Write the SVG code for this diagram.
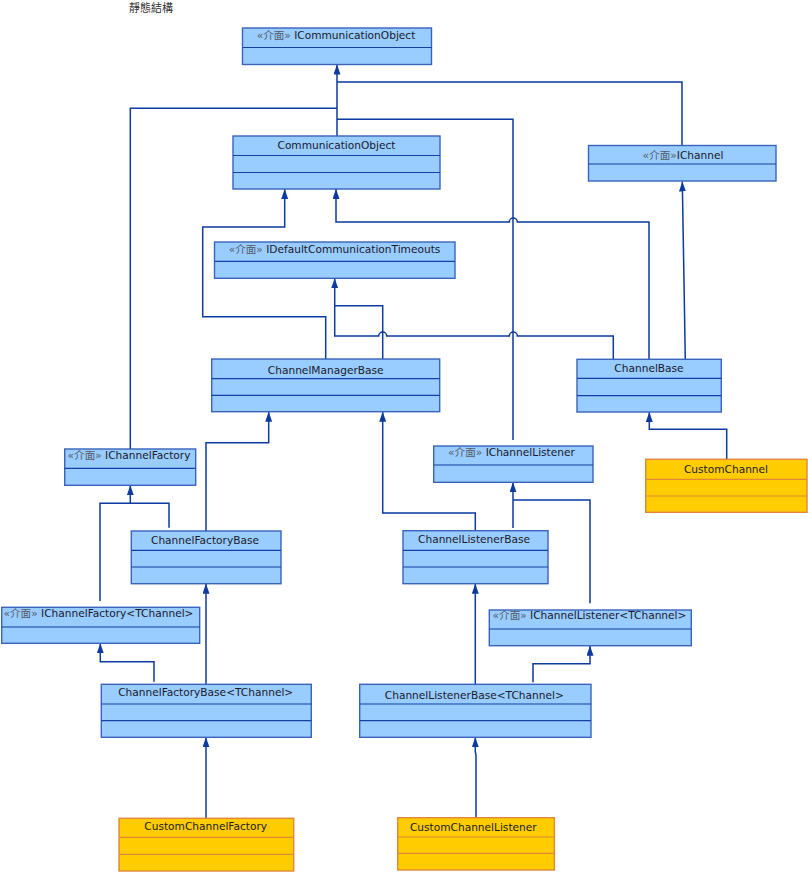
<svg xmlns="http://www.w3.org/2000/svg" width="808" height="872" viewBox="0 0 808 872">
<style>
.bx{fill:#99CCFF;stroke:#3A64BC;stroke-width:1.4}
.dv{stroke:#1240A4;stroke-width:1.2}
.ox{fill:#FFCC00;stroke:#E0873A;stroke-width:1.4}
.od{stroke:#E0873A;stroke-width:1.2}
.t{font-family:"DejaVu Sans","Noto Sans CJK TC",sans-serif;font-size:10.6px;fill:#1a1a2a;text-anchor:middle}
.st{fill:#555a66}
.cn{fill:none;stroke:#0D3A9E;stroke-width:1.5}
.ar{marker-end:url(#arr)}
</style>
<defs>
<marker id="arr" markerUnits="userSpaceOnUse" markerWidth="10" markerHeight="7" refX="10" refY="3.5" orient="auto">
<path d="M0,0 L10,3.5 L0,7 z" fill="#0D3A9E"/>
</marker>
</defs>
<rect width="808" height="872" fill="#ffffff"/>
<text x="129" y="12" font-family="'Noto Sans CJK TC',sans-serif" font-size="11" fill="#333">靜態結構</text>

<g id="connectors">
<path class="cn ar" d="M337,136 V64.5"/>
<path class="cn" d="M682,146 V82 H337"/>
<path class="cn" d="M513,440 V119.3 H337"/>
<path class="cn" d="M130.3,449 V108.3 H337"/>
<path class="cn ar" d="M325.7,359 V316.7 H202.7 V227 H284.7 V189"/>
<path class="cn ar" d="M649,359 V222 H517.3 A4 4 0 0 0 509.3 222 H336 V189"/>
<path class="cn ar" d="M685.3,359 L682.3,181.5"/>
<path class="cn ar" d="M613.3,359 V336 H517.3 A4 4 0 0 0 509.3 336 H386.7 A4 4 0 0 0 378.7 336 H334.7 V278.3"/>
<path class="cn" d="M382.7,359 V305.7 H334.7"/>
<path class="cn ar" d="M726.7,459.3 V429.3 H649.3 V412"/>
<path class="cn ar" d="M206,531 V442.7 H268.7 V411.7"/>
<path class="cn ar" d="M475.3,530.7 V513 H382.7 V411.7"/>
<path class="cn ar" d="M169,527.7 V503.3 H130.3 V485.3"/>
<path class="cn" d="M100,601 V503.3 H130.3"/>
<path class="cn ar" d="M513,528 V482.3"/>
<path class="cn" d="M590,603.3 V500 H513"/>
<path class="cn ar" d="M206,684.3 V583.7"/>
<path class="cn ar" d="M475.3,684.3 V583.7"/>
<path class="cn ar" d="M154,681.7 V661.7 H100.3 V643.3"/>
<path class="cn ar" d="M533,682.3 V663.7 H590 V645.7"/>
<path class="cn ar" d="M206,818.3 V737.3"/>
<path class="cn ar" d="M476,818 V755 L475.3,752 V737.3"/>
</g>

<g id="ICommunicationObject">
<rect class="bx" x="242.5" y="28" width="189" height="36.5"/>
<line class="dv" x1="242.5" y1="47.5" x2="431.5" y2="47.5"/>
<text class="t" x="336" y="38.5"><tspan class="st">«介面»</tspan> ICommunicationObject</text>
</g>

<g id="CommunicationObject">
<rect class="bx" x="233" y="136" width="207" height="53"/>
<line class="dv" x1="233" y1="155.5" x2="440" y2="155.5"/>
<line class="dv" x1="233" y1="172.5" x2="440" y2="172.5"/>
<text class="t" x="336.5" y="149">CommunicationObject</text>
</g>

<g id="IChannel">
<rect class="bx" x="588.5" y="145.5" width="187.5" height="35.5"/>
<line class="dv" x1="588.5" y1="164" x2="776" y2="164"/>
<text class="t" x="683" y="159"><tspan class="st">«介面»</tspan>IChannel</text>
</g>

<g id="IDefaultCommunicationTimeouts">
<rect class="bx" x="214.5" y="242" width="240.5" height="36.3"/>
<line class="dv" x1="214.5" y1="261.3" x2="455" y2="261.3"/>
<text class="t" x="334.5" y="252.5"><tspan class="st">«介面»</tspan> IDefaultCommunicationTimeouts</text>
</g>

<g id="ChannelManagerBase">
<rect class="bx" x="211.7" y="359" width="228" height="52.7"/>
<line class="dv" x1="211.7" y1="378.7" x2="439.7" y2="378.7"/>
<line class="dv" x1="211.7" y1="395.3" x2="439.7" y2="395.3"/>
<text class="t" x="325.7" y="374.3">ChannelManagerBase</text>
</g>

<g id="ChannelBase">
<rect class="bx" x="577" y="359.3" width="144.3" height="52.7"/>
<line class="dv" x1="577" y1="378.3" x2="721.3" y2="378.3"/>
<line class="dv" x1="577" y1="395.7" x2="721.3" y2="395.7"/>
<text class="t" x="649" y="372.3">ChannelBase</text>
</g>

<g id="IChannelFactory">
<rect class="bx" x="64.7" y="449" width="131" height="36.3"/>
<line class="dv" x1="64.7" y1="468.3" x2="195.7" y2="468.3"/>
<text class="t" x="129" y="458.7"><tspan class="st">«介面»</tspan> IChannelFactory</text>
</g>

<g id="IChannelListener">
<rect class="bx" x="433.7" y="446" width="159.3" height="36.3"/>
<line class="dv" x1="433.7" y1="465" x2="593" y2="465"/>
<text class="t" x="511.5" y="456"><tspan class="st">«介面»</tspan> IChannelListener</text>
</g>

<g id="CustomChannel">
<rect class="ox" x="645.7" y="459.3" width="161.3" height="53"/>
<line class="od" x1="645.7" y1="479.3" x2="807" y2="479.3"/>
<line class="od" x1="645.7" y1="496" x2="807" y2="496"/>
<text class="t" x="726" y="473.3">CustomChannel</text>
</g>

<g id="ChannelFactoryBase">
<rect class="bx" x="131.3" y="531" width="149.7" height="52.7"/>
<line class="dv" x1="131.3" y1="550.3" x2="281" y2="550.3"/>
<line class="dv" x1="131.3" y1="567" x2="281" y2="567"/>
<text class="t" x="205" y="543.7">ChannelFactoryBase</text>
</g>

<g id="ChannelListenerBase">
<rect class="bx" x="403" y="530.7" width="145" height="53"/>
<line class="dv" x1="403" y1="550.3" x2="548" y2="550.3"/>
<line class="dv" x1="403" y1="567" x2="548" y2="567"/>
<text class="t" x="474" y="543.3">ChannelListenerBase</text>
</g>

<g id="IChannelFactoryTChannel">
<rect class="bx" x="1.7" y="607.3" width="198" height="36"/>
<line class="dv" x1="1.7" y1="627" x2="199.7" y2="627"/>
<text class="t" x="98.5" y="616.7"><tspan class="st">«介面»</tspan> IChannelFactory&lt;TChannel&gt;</text>
</g>

<g id="IChannelListenerTChannel">
<rect class="bx" x="489.3" y="610" width="202" height="35.7"/>
<line class="dv" x1="489.3" y1="629" x2="691.3" y2="629"/>
<text class="t" x="589.5" y="619"><tspan class="st">«介面»</tspan> IChannelListener&lt;TChannel&gt;</text>
</g>

<g id="ChannelFactoryBaseTChannel">
<rect class="bx" x="101.3" y="684.3" width="210" height="53"/>
<line class="dv" x1="101.3" y1="704" x2="311.3" y2="704"/>
<line class="dv" x1="101.3" y1="720.7" x2="311.3" y2="720.7"/>
<text class="t" x="205.7" y="696">ChannelFactoryBase&lt;TChannel&gt;</text>
</g>

<g id="ChannelListenerBaseTChannel">
<rect class="bx" x="359.7" y="684.3" width="231.3" height="53"/>
<line class="dv" x1="359.7" y1="704" x2="591" y2="704"/>
<line class="dv" x1="359.7" y1="720.7" x2="591" y2="720.7"/>
<text class="t" x="474.3" y="698.7">ChannelListenerBase&lt;TChannel&gt;</text>
</g>

<g id="CustomChannelFactory">
<rect class="ox" x="119" y="818.3" width="174.7" height="52.7"/>
<line class="od" x1="119" y1="837.3" x2="293.7" y2="837.3"/>
<line class="od" x1="119" y1="854.3" x2="293.7" y2="854.3"/>
<text class="t" x="205.7" y="830">CustomChannelFactory</text>
</g>

<g id="CustomChannelListener">
<rect class="ox" x="397.7" y="817.7" width="156.7" height="52.3"/>
<line class="od" x1="397.7" y1="837" x2="554.3" y2="837"/>
<line class="od" x1="397.7" y1="853.3" x2="554.3" y2="853.3"/>
<text class="t" x="473.3" y="831">CustomChannelListener</text>
</g>
</svg>
